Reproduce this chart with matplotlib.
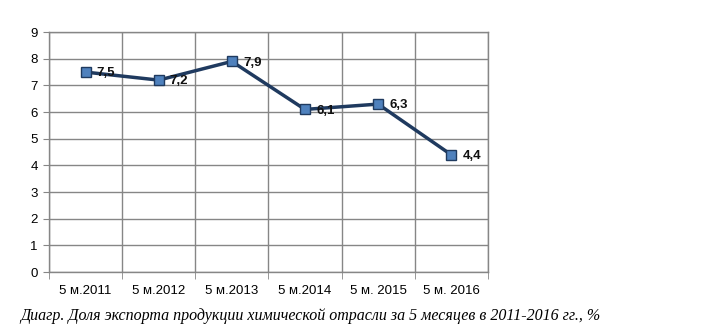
import matplotlib
matplotlib.use("Agg")
import matplotlib.pyplot as plt
import numpy as np

categories = ["5 м.2011", "5 м.2012", "5 м.2013", "5 м.2014", "5 м. 2015", "5 м. 2016"]
values = [7.5, 7.2, 7.9, 6.1, 6.3, 4.4]
labels = ["7,5", "7,2", "7,9", "6,1", "6,3", "4,4"]
caption = "Диагр. Доля экспорта продукции химической отрасли за 5 месяцев в 2011-2016 гг., %"

plt.rcParams['font.family'] = ['Liberation Sans', 'DejaVu Sans']

fig = plt.figure(figsize=(7.1, 3.31), dpi=100)
ax = fig.add_axes([0.069, 0.178, 0.618, 0.725])

x = np.arange(len(categories))
ax.plot(x, values, color="#1F3A5F", lw=2.5, marker="s", ms=7,
        mfc="#4F81BD", mec="#1F3A5F", mew=1, zorder=3)

# data labels right of points
for xi, v, lab in zip(x, values, labels):
    ax.annotate(lab, (xi, v), xytext=(8, -1), textcoords="offset points",
                ha="left", va="center", fontsize=9.5, fontweight="bold", color="#111111")

ax.set_xlim(-0.5, len(categories) - 0.5)
ax.set_ylim(0, 9)
ax.set_yticks(range(0, 10))
ax.tick_params(axis="y", labelsize=9.5, length=4, color="#868686", pad=4)

ax.set_xticks(x)
ax.set_xticklabels(categories, fontsize=9.5)
ax.tick_params(axis="x", length=0, pad=9)
ax.set_xticks(np.arange(-0.5, len(categories)), minor=True)
ax.tick_params(axis="x", which="minor", length=5, color="#868686")

ax.grid(True, axis="y", color="#868686", lw=1)
ax.grid(True, axis="x", which="minor", color="#868686", lw=1)
ax.set_axisbelow(True)
for s in ax.spines.values():
    s.set_color("#868686")
    s.set_linewidth(1)

fig.text(0.028, 0.045, caption, fontsize=11.5, style="italic",
         family=["Liberation Serif", "DejaVu Serif"], ha="left", va="center")

fig.savefig("out.png", dpi=100)
